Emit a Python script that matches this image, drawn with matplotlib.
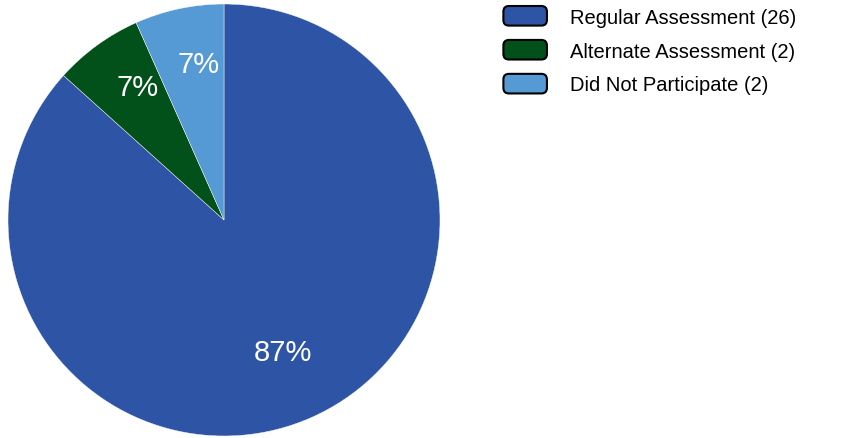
import numpy as np
import matplotlib
matplotlib.use("Agg")
import matplotlib.pyplot as plt
from matplotlib.patches import Patch, FancyBboxPatch
from matplotlib.legend_handler import HandlerPatch

plt.rcParams['font.family'] = ['Liberation Sans', 'DejaVu Sans']

labels = ['Regular Assessment', 'Alternate Assessment', 'Did Not Participate']
counts = [26, 2, 2]
colors = ['#2E55A5', '#03511A', '#5599D5']

W, H = 846, 439
fig = plt.figure(figsize=(W / 100, H / 100), dpi=100)

cx, cy, r = 224, 221, 216
ax = fig.add_axes([(cx - r) / W, (H - cy - r) / H, 2 * r / W, 2 * r / H])
wedges, texts, autotexts = ax.pie(
    counts, colors=colors, startangle=90, counterclock=False,
    autopct=lambda p: '{:.0f}%'.format(p), pctdistance=0.74,
    wedgeprops=dict(edgecolor='white', linewidth=0.3),
    textprops=dict(color='white', fontsize=21))
# big slice label sits a bit closer to the centre, small ones a touch to the right
x, y = autotexts[0].get_position()
autotexts[0].set_position((x * 0.67 / 0.74, y * 0.67 / 0.74))
autotexts[1].set_position(np.add(autotexts[1].get_position(), (0.035, 0.015)))
autotexts[2].set_position(np.add(autotexts[2].get_position(), (0.035, 0.0)))
ax.set_xlim(-1, 1)
ax.set_ylim(-1, 1)
ax.set_aspect('equal')
ax.axis('off')


def rounded_box(legend, orig_handle, xdescent, ydescent, width, height, fontsize):
    return FancyBboxPatch((-xdescent + 1, -ydescent), width - 2, height,
                          boxstyle='round,pad=0,rounding_size=4')


handles = [Patch(facecolor=c, edgecolor='black', linewidth=1.5) for c in colors]
leg_labels = ['{} ({})'.format(l, n) for l, n in zip(labels, counts)]
fig.legend(handles, leg_labels, loc='upper left',
           bbox_to_anchor=(502 / W, 1 - 7 / H), frameon=False,
           fontsize=14.5, handlelength=2.3, handleheight=1.12,
           handletextpad=1.1, labelspacing=0.66, borderpad=0,
           borderaxespad=0,
           handler_map={Patch: HandlerPatch(patch_func=rounded_box)})

fig.savefig('out.png', dpi=100)
